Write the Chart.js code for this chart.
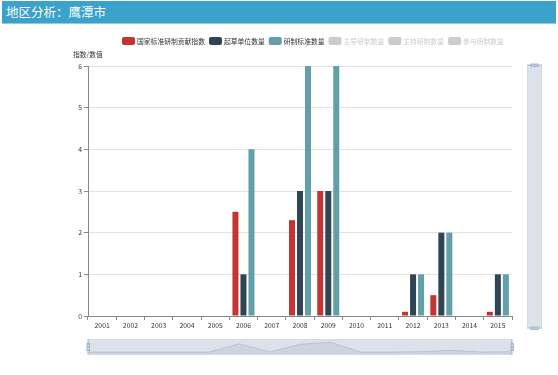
<!DOCTYPE html>
<html><head><meta charset="utf-8">
<script src="https://cdn.jsdelivr.net/npm/chart.js@4/dist/chart.umd.min.js"></script>
<style>
html,body{margin:0;padding:0;background:#fff;width:558px;height:375px;overflow:hidden;}
#hdr{position:absolute;left:2px;top:1px;width:554px;height:23px;background:#3aa2cb;border-bottom:1px solid #8fcbe2;color:#fff;font:12.5px "Noto Sans CJK SC",sans-serif;line-height:22px;padding-left:4px;box-sizing:border-box;}
#wrap{position:absolute;left:0;top:0;width:558px;height:375px;}
</style></head><body>
<div id="wrap"><canvas id="c" width="558" height="375"></canvas></div>
<div id="hdr">地区分析：鹰潭市</div>
<script>
const categories = ['2001','2002','2003','2004','2005','2006','2007','2008','2009','2010','2011','2012','2013','2014','2015'];
const contribIndex = [0,0,0,0,0,2.5,0,2.3,3,0,0,0.1,0.5,0,0.1];
const draftUnits   = [0,0,0,0,0,1,0,3,3,0,0,1,2,0,1];
const standards    = [0,0,0,0,0,4,0,6,6,0,0,1,2,0,1];
const leadCount = [];
const hostCount = [];
const joinCount = [];
const yTicks = [0,1,2,3,4,5,6];
const seriesNames = ['国家标准研制贡献指数','起草单位数量','研制标准数量','主导研制数量','主持研制数量','参与研制数量'];
const seriesColors = ['#c23531','#2f4554','#61a0a8','#d48265','#91c7ae','#749f83'];
const seriesData = [contribIndex, draftUnits, standards, leadCount, hostCount, joinCount];
const hiddenFlags = [false,false,false,true,true,true];
const FONT = '"Noto Sans CJK SC","Noto Sans",sans-serif';

const datasets = seriesNames.map((n,i)=>({
  label:n, data:seriesData[i], backgroundColor:seriesColors[i], hidden:hiddenFlags[i],
  categoryPercentage:0.85, barPercentage:0.75
}));

const extras = {
  id:'extras',
  afterDraw(chart){
    const ctx = chart.ctx, a = chart.chartArea, xs = chart.scales.x;
    ctx.save();
    // legend
    ctx.font = '6.8px '+FONT;
    ctx.textBaseline = 'middle';
    let x = 122; const ly = 41;
    seriesNames.forEach((n,i)=>{
      const col = hiddenFlags[i] ? '#ccc' : seriesColors[i];
      ctx.fillStyle = col;
      ctx.beginPath();
      if (ctx.roundRect) ctx.roundRect(x, ly-4, 13, 8, 2); else ctx.rect(x, ly-4, 13, 8);
      ctx.fill();
      x += 15;
      ctx.fillStyle = hiddenFlags[i] ? '#ccc' : '#333';
      ctx.fillText(n, x, ly);
      x += ctx.measureText(n).width + 4;
    });
    // y axis name
    ctx.fillStyle = '#333';
    ctx.font = '6.8px '+FONT;
    ctx.textAlign = 'left';
    ctx.fillText('指数/数值', 73, a.top - 12);

    // bottom slider
    const sl = xs.left, sr = xs.right, st = a.bottom + 23, sb = a.bottom + 39;
    ctx.fillStyle = 'rgba(167,183,204,0.4)';
    ctx.fillRect(sl, st, sr-sl, sb-st);
    // data shadow
    const vals = seriesData[0];
    const maxV = Math.max(...vals);
    const step = (sr-sl)/(vals.length-1);
    ctx.beginPath();
    ctx.moveTo(sl, sb);
    vals.forEach((v,i)=>{ ctx.lineTo(sl+i*step, sb-3-(v/maxV)*(sb-st-6)); });
    ctx.lineTo(sr, sb);
    ctx.closePath();
    ctx.fillStyle = 'rgba(47,69,84,0.09)';
    ctx.fill();
    ctx.beginPath();
    vals.forEach((v,i)=>{ const px=sl+i*step, py=sb-3-(v/maxV)*(sb-st-6); i?ctx.lineTo(px,py):ctx.moveTo(px,py); });
    ctx.strokeStyle = 'rgba(47,69,84,0.25)';
    ctx.lineWidth = 0.6;
    ctx.stroke();
    ctx.strokeStyle = '#d4dbe5';
    ctx.lineWidth = 1;
    ctx.strokeRect(sl+0.5, st+0.5, sr-sl-1, sb-st-1);
    // handles
    [sl, sr].forEach(hx=>{
      ctx.fillStyle = '#a7b7cc';
      ctx.fillRect(hx-0.5, st, 1, sb-st);
      ctx.fillRect(hx-1.5, st+4, 3.5, 8);
      ctx.fillStyle = '#e6ebf2';
      ctx.fillRect(hx-0.5, st+6, 1.5, 1);
      ctx.fillRect(hx-0.5, st+9, 1.5, 1);
    });
    // right slider
    const rl = a.right + 15, rr = a.right + 30, rt = a.top - 1, rb = a.bottom + 12;
    ctx.fillStyle = 'rgba(167,183,204,0.4)';
    ctx.fillRect(rl, rt, rr-rl, rb-rt);
    ctx.strokeStyle = '#d4dbe5';
    ctx.strokeRect(rl+0.5, rt+0.5, rr-rl-1, rb-rt-1);
    const cx = (rl+rr)/2;
    [rt, rb].forEach(hy=>{
      ctx.fillStyle = '#a7b7cc';
      ctx.fillRect(rl, hy-0.5, rr-rl, 1);
      ctx.fillRect(cx-4, hy-1.5, 8, 3.5);
      ctx.fillStyle = '#e6ebf2';
      ctx.fillRect(cx-2, hy-0.5, 1, 1.5);
      ctx.fillRect(cx+1, hy-0.5, 1, 1.5);
    });
    ctx.restore();
  }
};

new Chart(document.getElementById('c'), {
  type:'bar',
  data:{ labels:categories, datasets },
  options:{
    responsive:false, animation:false,
    layout:{ padding:{ left:58, right:46, top:66, bottom:39 } },
    plugins:{ legend:{display:false}, tooltip:{enabled:false} },
    scales:{
      x:{
        grid:{ display:true, drawOnChartArea:false, drawTicks:true, tickLength:4, offset:true, color:'#888', tickColor:'#888' },
        border:{ display:true, color:'#888', width:1 },
        ticks:{ font:{ size:6.8, family:FONT }, color:'#333', padding:1, maxRotation:0, autoSkip:false },
        afterFit(s){ s.height = 20; }
      },
      y:{
        min:0, max:6,
        afterBuildTicks(s){ s.ticks = yTicks.map(v=>({value:v})); },
        grid:{ color:'#e3e3e3', tickLength:4, tickColor:'#888' },
        border:{ display:true, color:'#888', width:1 },
        ticks:{ font:{ size:6.8, family:FONT }, color:'#333', padding:2 },
        afterFit(s){ s.width = 30; }
      }
    }
  },
  plugins:[extras]
});
</script>
</body></html>
